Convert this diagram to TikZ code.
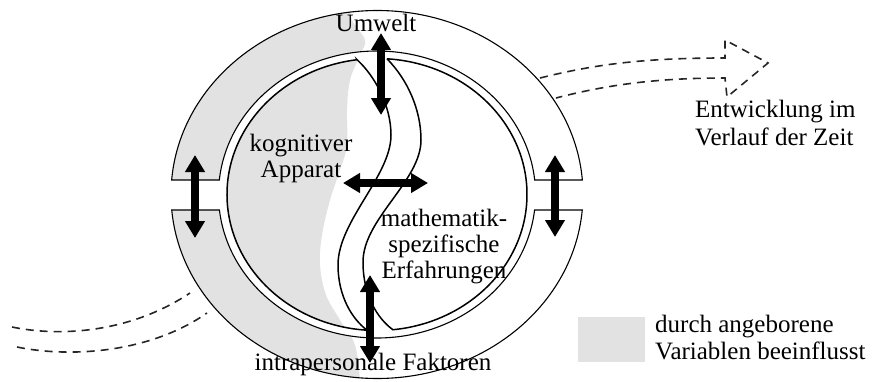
\documentclass[tikz,border=0pt]{standalone}
\usepackage{fontspec}
\setmainfont{Liberation Serif}
\usetikzlibrary{arrows.meta,calc}
\definecolor{lgray}{RGB}{226,226,226}
\begin{document}
\begin{tikzpicture}[x=1pt,y=1pt,
  ringline/.style={line width=1.1pt},
  halfline/.style={line width=1.5pt},
  bigarrow/.style={line width=7.5pt,{Triangle[width=19pt,length=17pt]}-{Triangle[width=19pt,length=17pt]}},
  dashline/.style={line width=1.6pt,dash pattern=on 8pt off 6pt,black!85},
  lbl/.style={font=\fontsize{25}{26}\selectfont,inner sep=0pt}
]
\useasboundingbox (0,0) rectangle (872,381);
\coordinate (C) at (377,186.5);
% gray region (whole)
\begin{scope}
  \clip (C) ellipse [x radius=206pt,y radius=184pt];
  \fill[lgray] (0,-10) -- (360,-10) -- plot[smooth,tension=0.6] coordinates {(360,0) (355,36) (340,61) (326,86) (320,116) (322,146) (330,181) (340,211) (347,236) (347,271) (350,301) (360,326) (365,341) (352,361) (350,381)} -- (350,391) -- (0,391) -- cycle;
\end{scope}
% white: inside ring and notches
\fill[white] (C) ellipse [x radius=158.5pt,y radius=143.5pt];
\fill[white] (160,171) rectangle (222,201);
\fill[white] (532,171) rectangle (592,201);
% gray in left half
\begin{scope}
  \clip ($(C)+(97.66:150pt and 136pt)$) arc[start angle=97.66,end angle=266.2,x radius=150pt,y radius=136pt]
     .. controls (352,62) and (338,85) .. (338,116) .. controls (338,160) and (391,205) .. (391,246) .. controls (391,275) and (375,305) .. (357,321.3) -- cycle;
  \fill[lgray] (0,-10) -- (360,-10) -- plot[smooth,tension=0.6] coordinates {(360,0) (355,36) (340,61) (326,86) (320,116) (322,146) (330,181) (340,211) (347,236) (347,271) (350,301) (360,326) (365,341) (352,361) (350,381)} -- (350,391) -- (0,391) -- cycle;
\end{scope}
% ring halves
\draw[ringline] ($(C)+(4.52:206pt and 184pt)$) arc[start angle=4.52,end angle=175.48,x radius=206pt,y radius=184pt]
  -- ($(C)+(174.2:158.5pt and 143.5pt)$) arc[start angle=174.2,end angle=5.8,x radius=158.5pt,y radius=143.5pt] -- cycle;
\draw[ringline] ($(C)+(-4.83:206pt and 184pt)$) arc[start angle=-4.83,end angle=-175.17,x radius=206pt,y radius=184pt]
  -- ($(C)+(-173.8:158.5pt and 143.5pt)$) arc[start angle=-173.8,end angle=-6.2,x radius=158.5pt,y radius=143.5pt] -- cycle;
% inner halves
\draw[halfline] ($(C)+(97.66:150pt and 136pt)$) arc[start angle=97.66,end angle=266.2,x radius=150pt,y radius=136pt]
     .. controls (352,62) and (338,85) .. (338,116) .. controls (338,160) and (391,205) .. (391,246) .. controls (391,275) and (375,305) .. (357,321.3) -- cycle;
\draw[halfline] ($(C)+(86.2:150pt and 136pt)$) arc[start angle=86.2,end angle=-83.9,x radius=150pt,y radius=136pt]
     .. controls (378,62) and (363,85) .. (363,119) .. controls (363,162) and (421,200) .. (421,241) .. controls (421,272) and (407,302) .. (387,322.2) -- cycle;
% big arrows
\coordinate (ta1) at (381,348); \coordinate (ta2) at (381,266);
\coordinate (ba1) at (370,106); \coordinate (ba2) at (370,18);
\coordinate (ma1) at (343,198); \coordinate (ma2) at (428,198);
\coordinate (la1) at (195,226); \coordinate (la2) at (195,143);
\coordinate (ra1) at (555,226); \coordinate (ra2) at (555,144);
\draw[bigarrow] (ta1) -- (ta2);
\draw[bigarrow] (ba1) -- (ba2);
\draw[bigarrow] (ma1) -- (ma2);
\draw[bigarrow] (la1) -- (la2);
\draw[bigarrow] (ra1) -- (ra2);
% dashed arrows
\coordinate (rs1) at (540,303); \coordinate (rs2) at (556,283);
\coordinate (rtip) at (768,318);
\draw[dashline] (rs1) .. controls (600,318) and (650,323) .. (725,323) -- (725,341) -- (rtip) -- (727,284) -- (725,303) .. controls (660,303) and (610,297) .. (rs2);
\coordinate (ls1) at (12,54); \coordinate (le1) at (190,88);
\coordinate (ls2) at (17,34); \coordinate (le2) at (207,68);
\draw[dashline] (ls1) .. controls (60,44) and (130,48) .. (le1);
\draw[dashline] (ls2) .. controls (70,23) and (150,28) .. (le2);
% labels (base anchor = baseline of last line)
\node[lbl,anchor=base] (umwelt) at (376,349) {Umwelt};
\node[lbl,align=center,anchor=base] (kog) at (301,204) {kognitiver\\Apparat};
\node[lbl,align=center,anchor=base] (mat) at (444,103) {mathematik-\\spezifische\\Erfahrungen};
\node[lbl,anchor=base] (intra) at (373,11) {intrapersonale Faktoren};
\node[lbl,font=\fontsize{25}{28}\selectfont,align=left,anchor=base west] (entw) at (695,236) {Entwicklung im\\Verlauf der Zeit};
% legend
\node[fill=lgray,minimum width=67pt,minimum height=45pt,inner sep=0pt] (legbox) at (611.5,41.5) {};
\node[lbl,font=\fontsize{25}{27}\selectfont,align=left,anchor=base west] (legtxt) at (655,22) {durch angeborene\\Variablen beeinflusst};
\end{tikzpicture}
\end{document}
